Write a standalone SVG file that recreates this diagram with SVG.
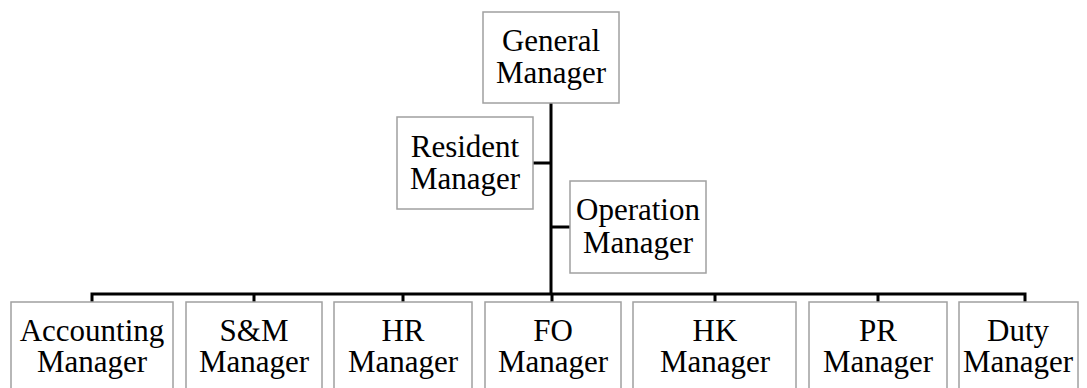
<svg xmlns="http://www.w3.org/2000/svg" width="1087" height="388" viewBox="0 0 1087 388">
<style>
.box{fill:#fff;stroke:#a0a0a0;stroke-width:1.5}
.t{font-family:"Liberation Serif","Times New Roman",serif;font-size:31px;fill:#000;text-anchor:middle}
.c{stroke:#000;stroke-width:3;fill:none}
</style>
<rect width="1087" height="388" fill="#fff"/>
<g id="connectors">
<path class="c" d="M551 103V294M533 163H551M551 227H570M92 302V294H1025V302M254 294V302M403 294V302M552 294V302M715 294V302M878 294V302"/>
</g>
<g id="gm"><rect class="box" x="483" y="12" width="136" height="91"/><text class="t" x="551" y="51">General</text><text class="t" x="551" y="83">Manager</text></g>
<g id="rm"><rect class="box" x="397" y="117" width="136" height="92"/><text class="t" x="465" y="157">Resident</text><text class="t" x="465" y="189">Manager</text></g>
<g id="om"><rect class="box" x="570" y="181" width="136" height="92"/><text class="t" x="638" y="220">Operation</text><text class="t" x="638" y="253">Manager</text></g>
<g id="acc"><rect class="box" x="11" y="302" width="162" height="100"/><text class="t" x="92" y="341">Accounting</text><text class="t" x="92" y="372">Manager</text></g>
<g id="sm"><rect class="box" x="186" y="302" width="136" height="100"/><text class="t" x="254" y="341">S&amp;M</text><text class="t" x="254" y="372">Manager</text></g>
<g id="hr"><rect class="box" x="334" y="302" width="138" height="100"/><text class="t" x="403" y="341">HR</text><text class="t" x="403" y="372">Manager</text></g>
<g id="fo"><rect class="box" x="485" y="302" width="136" height="100"/><text class="t" x="553" y="341">FO</text><text class="t" x="553" y="372">Manager</text></g>
<g id="hk"><rect class="box" x="633" y="302" width="163" height="100"/><text class="t" x="715" y="341">HK</text><text class="t" x="715" y="372">Manager</text></g>
<g id="pr"><rect class="box" x="809" y="302" width="138" height="100"/><text class="t" x="878" y="341">PR</text><text class="t" x="878" y="372">Manager</text></g>
<g id="duty"><rect class="box" x="959" y="302" width="119" height="100"/><text class="t" x="1018" y="341">Duty</text><text class="t" x="1018" y="372">Manager</text></g>
</svg>
